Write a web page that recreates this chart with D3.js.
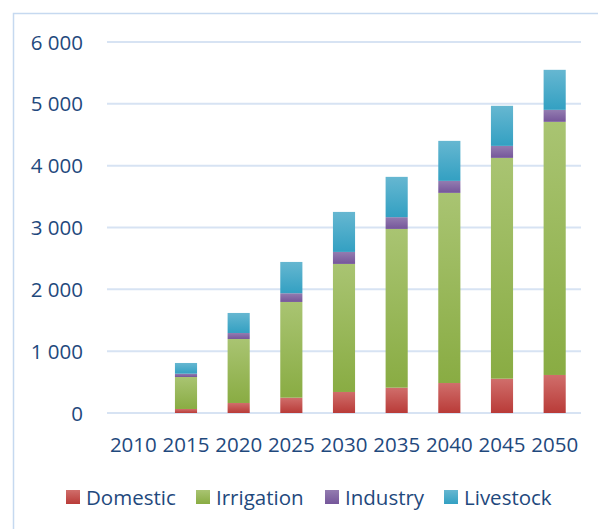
<!DOCTYPE html>
<html>
<head>
<meta charset="utf-8">
<script src="https://cdn.jsdelivr.net/npm/d3@7"></script>
<style>
  body { margin: 0; background: #fff; }
  text { font-family: "Open Sans", sans-serif; fill: #1f497d; }
</style>
</head>
<body>
<script>
const years = ['2010', '2015', '2020', '2025', '2030', '2035', '2040', '2045', '2050'];
const domestic   = [0, 65, 162, 248, 340, 410, 485, 555, 615];
const irrigation = [0, 517, 1035, 1548, 2071, 2567, 3075, 3571, 4094];
const industry   = [0, 54, 97, 141, 194, 190, 194, 194, 194];
const livestock  = [0, 173, 324, 506, 647, 652, 647, 648, 647];
const seriesNames = ['Domestic', 'Irrigation', 'Industry', 'Livestock'];
const yTicks = [0, 1000, 2000, 3000, 4000, 5000, 6000];

const width = 598, height = 529;
const svg = d3.select('body').append('svg').attr('width', width).attr('height', height);

// gradients, light on top, darker below
const grads = [
  ['#d06e6b', '#b93b38'],
  ['#a9c472', '#89ac43'],
  ['#937cb0', '#75569a'],
  ['#66b7d1', '#33a0c2']
];
const defs = svg.append('defs');
grads.forEach((c, i) => {
  const lg = defs.append('linearGradient').attr('id', 'g' + i)
    .attr('x1', 0).attr('y1', 0).attr('x2', 0).attr('y2', 1);
  lg.append('stop').attr('offset', '0%').attr('stop-color', c[0]);
  lg.append('stop').attr('offset', '100%').attr('stop-color', c[1]);
});

// frame
svg.append('rect').attr('x', 13.5).attr('y', 13.5).attr('width', 600).attr('height', 600)
  .attr('fill', 'none').attr('stroke', '#c6d9f0').attr('stroke-width', 1.5);

const x = d3.scaleBand().domain(years).range([107, 581]).paddingInner(0.58).paddingOuter(0.29);
const y = d3.scaleLinear().domain([0, 6000]).range([413, 42]);

// gridlines
svg.append('g').selectAll('line').data(yTicks).enter().append('line')
  .attr('x1', 107).attr('x2', 581)
  .attr('y1', d => y(d)).attr('y2', d => y(d))
  .attr('stroke', '#d7e3f3').attr('stroke-width', 2);

// y labels
svg.append('g').selectAll('text').data(yTicks).enter().append('text')
  .attr('x', 83).attr('y', d => y(d) + 7.5)
  .attr('text-anchor', 'end').style('font-size', '20.5px')
  .text(d => d3.format(',')(d).replace(/,/g, ' '));

// stacked bars
const rows = years.map((yr, i) => ({
  year: yr, Domestic: domestic[i], Irrigation: irrigation[i], Industry: industry[i], Livestock: livestock[i]
}));
const stacked = d3.stack().keys(seriesNames)(rows);

svg.append('g').selectAll('g').data(stacked).enter().append('g')
  .attr('fill', (d, i) => 'url(#g' + i + ')')
  .selectAll('rect').data(d => d).enter().append('rect')
  .attr('x', d => x(d.data.year))
  .attr('width', x.bandwidth())
  .attr('y', d => y(d[1]))
  .attr('height', d => y(d[0]) - y(d[1]));

// x labels
svg.append('g').selectAll('text').data(years).enter().append('text')
  .attr('x', d => x(d) + x.bandwidth() / 2).attr('y', 451.5)
  .attr('text-anchor', 'middle').style('font-size', '20.5px')
  .text(d => d);

// legend
const legendX = [66, 196, 325, 444];
const lg = svg.append('g').selectAll('g').data(seriesNames).enter().append('g')
  .attr('transform', (d, i) => `translate(${legendX[i]},490)`);
lg.append('rect').attr('width', 14).attr('height', 14).attr('fill', (d, i) => 'url(#g' + i + ')');
lg.append('text').attr('x', 20).attr('y', 15).style('font-size', '20.5px').text(d => d);
</script>
</body>
</html>
